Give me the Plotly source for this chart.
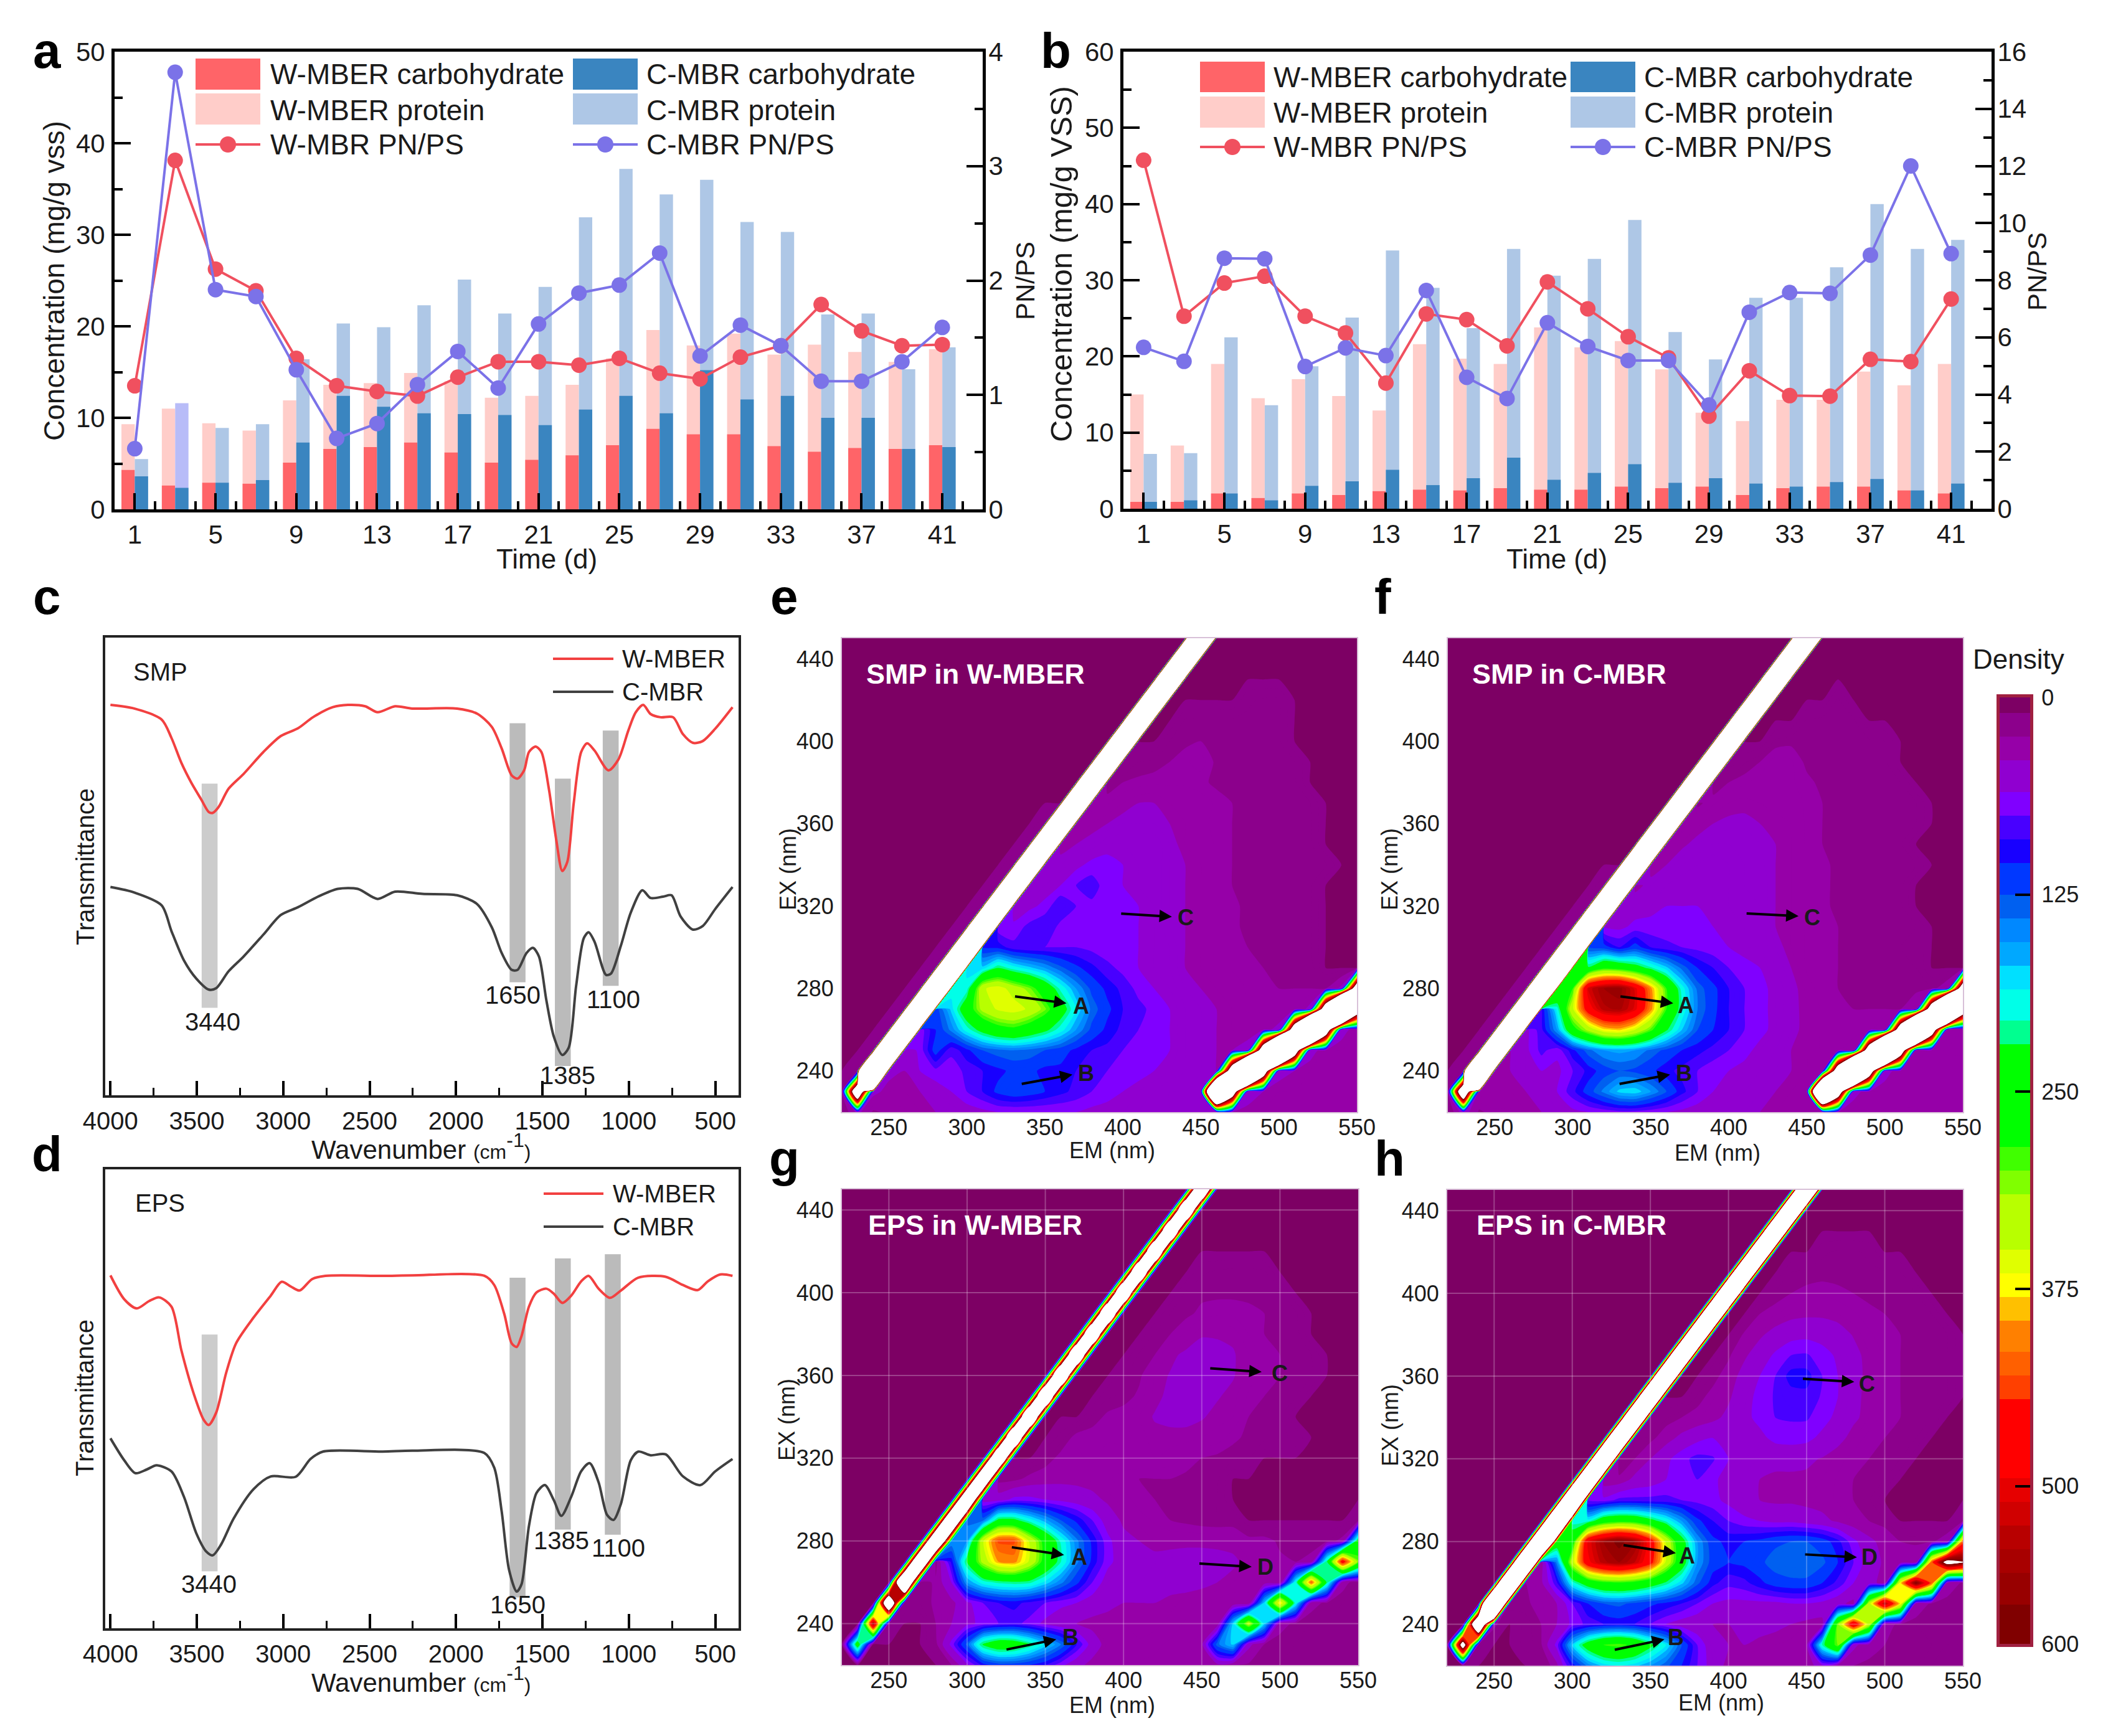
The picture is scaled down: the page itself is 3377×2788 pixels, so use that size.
import plotly.graph_objects as go

W, H = 3377, 2788
OFF = 8  # the page keeps its default body margin
FONT = "Liberation Sans"

# a: SMP concentration and PN/PS
days = [1, 3, 5, 7, 9, 11, 13, 15, 17, 19, 21, 23, 25, 27, 29, 31, 33, 35, 37, 39, 41]
a_w_carb = [4.3, 2.6, 2.9, 2.8, 5.1, 6.6, 6.8, 7.3, 6.2, 5.1, 5.4, 5.9, 7.0, 8.8, 8.2, 8.2, 6.9, 6.3, 6.7, 6.6, 7.0]
a_w_prot = [9.3, 11.0, 9.4, 8.6, 11.9, 13.6, 13.8, 14.9, 14.0, 12.2, 12.4, 13.6, 16.5, 19.6, 17.9, 19.2, 16.9, 18.0, 17.2, 16.1, 17.5]
a_c_carb = [3.6, 2.35, 2.9, 3.2, 7.3, 12.4, 11.2, 10.5, 10.4, 10.3, 9.2, 10.9, 12.4, 10.5, 15.2, 12.0, 12.4, 10.0, 10.0, 6.6, 6.8]
a_c_prot = [5.5, 11.6, 8.9, 9.3, 16.4, 20.3, 19.9, 22.3, 25.1, 21.4, 24.3, 31.9, 37.2, 34.4, 36.0, 31.4, 30.3, 21.3, 21.4, 15.3, 17.7]
a_w_ratio = [1.08, 3.05, 2.10, 1.91, 1.32, 1.08, 1.03, 0.99, 1.155, 1.29, 1.29, 1.26, 1.32, 1.19, 1.14, 1.33, 1.43, 1.79, 1.56, 1.43, 1.44]
a_c_ratio = [0.53, 3.82, 1.92, 1.86, 1.22, 0.62, 0.75, 1.09, 1.38, 1.06, 1.62, 1.89, 1.96, 2.24, 1.34, 1.61, 1.43, 1.12, 1.12, 1.29, 1.59]

# b: EPS concentration and PN/PS
b_w_carb = [0.9, 0.9, 2.0, 1.4, 2.0, 1.8, 2.3, 2.5, 2.4, 2.7, 2.5, 2.5, 2.9, 2.7, 2.9, 1.8, 2.7, 2.9, 2.9, 2.4, 2.0]
b_w_prot = [15.0, 8.3, 19.0, 14.5, 17.0, 14.8, 12.9, 21.6, 19.7, 19.0, 23.8, 21.2, 22.0, 18.3, 12.6, 11.5, 14.3, 14.3, 18.0, 16.2, 19.0]
b_c_carb = [0.9, 1.1, 2.0, 1.1, 3.0, 3.6, 5.1, 3.1, 4.0, 6.7, 3.8, 4.7, 5.85, 3.4, 4.0, 3.3, 2.9, 3.5, 3.9, 2.4, 3.3]
b_c_prot = [7.2, 7.3, 22.5, 13.6, 18.7, 25.1, 33.9, 29.0, 23.7, 34.1, 30.6, 32.8, 37.9, 23.2, 19.6, 27.7, 27.7, 31.7, 40.0, 34.1, 35.3]
b_w_ratio = [12.2, 6.74, 7.9, 8.14, 6.74, 6.15, 4.4, 6.82, 6.62, 5.7, 7.94, 7.0, 6.02, 5.28, 3.24, 4.83, 3.96, 3.94, 5.23, 5.15, 7.34]
b_c_ratio = [5.65, 5.16, 8.77, 8.75, 4.98, 5.63, 5.36, 7.64, 4.6, 3.86, 6.51, 5.68, 5.19, 5.19, 3.63, 6.88, 7.57, 7.54, 8.88, 12.0, 8.93]

# c: FTIR of SMP
c_wn_w = [4000, 3862, 3704, 3647, 3589, 3532, 3474, 3431, 3408, 3374, 3316, 3230, 3115, 3014, 2914, 2828, 2713, 2626, 2526, 2454, 2353, 2253, 1994, 1879, 1793, 1736, 1678, 1644, 1606, 1578, 1540, 1506, 1463, 1420, 1385, 1356, 1319, 1276, 1241, 1198, 1118, 1060, 1003, 960, 917, 874, 816, 744, 687, 629, 572, 500, 400]
c_t_w = [85.3, 84.5, 82.1, 78.1, 72.6, 68.3, 64.6, 61.9, 61.7, 63, 67, 70.2, 75, 78.5, 80.2, 82.6, 84.8, 85.3, 85, 83.7, 85, 84.5, 84.5, 83.4, 80.5, 75.8, 69.9, 69.2, 71, 75, 76.2, 75, 67, 55.8, 49, 51, 63.8, 75, 76.9, 75.3, 71, 73.4, 79.7, 83.7, 85.3, 83.3, 82.6, 82.6, 78.9, 77, 77.4, 80.1, 84.8]
c_wn_c = [4000, 3862, 3704, 3647, 3575, 3503, 3431, 3388, 3316, 3230, 3115, 3014, 2914, 2799, 2684, 2569, 2454, 2353, 2195, 1994, 1879, 1793, 1736, 1678, 1644, 1592, 1555, 1520, 1477, 1434, 1385, 1348, 1305, 1261, 1233, 1198, 1132, 1103, 1046, 989, 922, 874, 802, 753, 701, 629, 572, 500, 400]
c_t_c = [45.5, 44.3, 41.5, 35.9, 29.5, 25.5, 23.1, 23.4, 27.1, 30.3, 35.1, 39.4, 41.1, 43.4, 45.1, 45.1, 42.9, 44.5, 44, 43.7, 41.8, 36.7, 31.1, 27.4, 27.4, 31.1, 32.2, 30.3, 20.7, 12.8, 8.8, 10.4, 23.9, 34.3, 35.6, 33.5, 26.3, 26.6, 32.7, 39.9, 44.8, 43.1, 43.4, 43.7, 39.1, 36.2, 37, 40.7, 45.5]
c_band_wn = [3426, 1644, 1382, 1105]
c_band_top = [68.1, 81.3, 69.2, 79.7]
c_band_low = [19.1, 24.7, 6.4, 23.9]

# d: FTIR of EPS
d_wn_w = [4000, 3920, 3848, 3776, 3718, 3647, 3589, 3517, 3460, 3431, 3388, 3330, 3273, 3172, 3072, 3009, 2957, 2905, 2833, 2756, 2425, 2253, 1836, 1779, 1721, 1678, 1649, 1621, 1578, 1534, 1477, 1434, 1385, 1333, 1276, 1233, 1175, 1109, 1046, 945, 787, 687, 601, 543, 471, 400]
d_t_w = [76.9, 71.7, 69.7, 71.3, 72.1, 70.1, 60.5, 51, 45.4, 44.3, 47, 55.7, 62.1, 67.7, 72.5, 75.5, 74.5, 73.6, 76.1, 76.8, 76.8, 76.9, 76.8, 74.8, 68.5, 62.1, 61.3, 63.7, 70.1, 73.2, 74, 72.9, 70.9, 72.5, 75.6, 76.8, 74, 72, 73.6, 76.4, 76.6, 74.8, 73.7, 75.6, 77.1, 76.8]
d_wn_c = [4000, 3920, 3856, 3790, 3733, 3647, 3575, 3503, 3445, 3408, 3359, 3287, 3172, 3072, 2928, 2842, 2770, 2425, 2253, 1836, 1779, 1736, 1693, 1649, 1621, 1578, 1534, 1486, 1434, 1391, 1333, 1276, 1227, 1175, 1126, 1089, 1046, 989, 945, 874, 787, 687, 586, 500, 400]
d_t_c = [41.4, 36.6, 33.8, 34.6, 35.5, 34.2, 28.7, 20.7, 16.7, 15.9, 18.3, 23.9, 30.3, 33.1, 33, 36.9, 38.5, 38.5, 38.7, 38.2, 35, 25.5, 12.7, 8, 9.6, 22.3, 29.5, 31.2, 27.9, 24.5, 28.7, 34.2, 36, 31.8, 24.7, 23.6, 27.1, 36.6, 38.5, 37.7, 37.9, 33.1, 31.2, 34.2, 36.9]
d_band_wn = [3426, 1644, 1382, 1093]
d_band_top = [64, 76.4, 80.6, 81.5]
d_band_low = [12.4, 6.7, 21.5, 20.4]

# e-h: fluorescence maps, one row per EX value, one column per EM value
em = list(range(220, 551, 10))
ex = list(range(220, 451, 10))

smp_w = [
    [5, 40, 18, 22, 24, 30, 35, 40, 45, 50, 55, 55, 55, 55, 55, 55, 50, 50, 50, 45, 45, 40, 40, 35, 35, 35, 30, 30, 30, 30, 30, 30, 30, 30],
    [5, 900, 40, 30, 30, 35, 45, 55, 70, 85, 105, 115, 110, 100, 90, 80, 70, 60, 55, 50, 45, 40, 40, 40, 1500, 800, 45, 35, 30, 30, 30, 30, 30, 30],
    [5, 18, 6000, 40, 35, 55, 65, 60, 75, 85, 95, 105, 105, 95, 95, 85, 75, 70, 65, 60, 55, 50, 45, 40, 35, 800, 2000, 800, 40, 35, 30, 30, 30, 30],
    [5, 5, 18, 6000, 40, 60, 110, 75, 95, 120, 130, 135, 130, 120, 110, 95, 85, 80, 70, 65, 60, 55, 45, 40, 35, 35, 40, 800, 2000, 800, 40, 30, 30, 30],
    [5, 5, 5, 18, 6000, 60, 100, 140, 190, 230, 260, 270, 250, 225, 190, 150, 115, 95, 80, 70, 65, 55, 45, 40, 35, 30, 30, 30, 40, 800, 2000, 800, 40, 30],
    [5, 5, 5, 5, 18, 6000, 110, 170, 250, 320, 350, 360, 340, 300, 240, 180, 130, 105, 85, 75, 65, 55, 45, 40, 35, 30, 24, 24, 24, 24, 40, 800, 2000, 800],
    [5, 5, 5, 5, 5, 18, 6000, 190, 190, 340, 360, 330, 300, 250, 195, 150, 115, 95, 80, 65, 55, 50, 40, 35, 30, 30, 24, 24, 20, 20, 20, 20, 40, 800],
    [5] * 6 + [18, 6000, 170, 170, 215, 190, 170, 150, 125, 105, 90, 75, 65, 55, 50, 45, 35, 30, 24, 24, 24, 20, 20, 20, 18, 5, 5, 5],
    [5] * 7 + [18, 6000, 100, 95, 75, 70, 70, 70, 70, 65, 60, 60, 55, 50, 45, 35, 30, 24, 22, 20, 18, 18, 18, 16, 5, 5, 5],
    [5] * 8 + [18, 6000, 60, 60, 75, 85, 65, 65, 65, 60, 60, 55, 50, 40, 35, 30, 24, 22, 18, 18, 18, 16, 16, 5, 5, 5],
    [5] * 9 + [18, 6000, 40, 50, 60, 85, 70, 65, 60, 60, 55, 50, 40, 35, 30, 24, 22, 18, 18, 18, 16, 16, 5, 5, 5],
    [5] * 10 + [18, 6000, 35, 45, 55, 70, 80, 60, 55, 50, 50, 40, 35, 30, 24, 20, 18, 18, 18, 16, 16, 5, 5, 5],
    [5] * 11 + [18, 6000, 35, 40, 50, 60, 60, 55, 50, 50, 40, 35, 30, 24, 20, 18, 18, 18, 16, 16, 16, 5, 5],
    [5] * 12 + [15, 6000, 30, 35, 40, 50, 50, 50, 50, 40, 30, 30, 24, 20, 18, 18, 18, 16, 16, 5, 5, 5],
    [5] * 13 + [15, 6000, 24, 30, 35, 40, 40, 40, 35, 30, 28, 22, 20, 18, 18, 18, 16, 16, 5, 5, 5],
    [5] * 14 + [5, 6000, 20, 24, 30, 35, 35, 30, 30, 28, 24, 20, 16, 16, 16, 16, 15, 5, 5, 5],
    [5] * 15 + [5, 6000, 15, 20, 22, 24, 24, 24, 22, 18, 18, 18, 18, 16, 16, 5, 5, 5, 5],
    [5] * 16 + [5, 6000, 5, 15, 16, 20, 24, 28, 18, 18, 18, 18, 16, 15, 5, 5, 5, 5],
    [5] * 17 + [5, 6000, 5, 5, 15, 18, 20, 18, 18, 17, 17, 16, 5, 5, 5, 5, 5],
    [5] * 18 + [5, 6000, 5, 5, 16, 16, 16, 16, 16, 16, 16, 5, 5, 5, 5, 5],
    [5] * 19 + [5, 6000, 5, 5, 5, 5, 5, 14, 16, 16, 5, 5, 5, 5, 5],
    [5] * 20 + [5, 6000] + [5] * 12,
    [5] * 21 + [5, 6000] + [5] * 11,
    [5] * 22 + [5, 6000] + [5] * 10,
]

smp_c = [
    [5, 45, 18, 24, 24, 30, 35, 45, 50, 55, 60, 65, 65, 60, 55, 50, 45, 45, 40, 40, 35, 30, 30, 30, 30, 30, 28, 28, 24, 24, 24, 30, 30, 24],
    [5, 900, 35, 30, 30, 35, 40, 55, 80, 110, 140, 170, 175, 150, 120, 90, 70, 55, 50, 45, 40, 35, 30, 30, 1500, 800, 40, 30, 30, 30, 28, 28, 30, 28],
    [5, 18, 6000, 35, 35, 50, 55, 50, 70, 90, 110, 120, 115, 105, 90, 80, 70, 60, 55, 50, 45, 40, 35, 30, 30, 800, 2000, 800, 40, 30, 28, 28, 28, 28],
    [5, 5, 18, 6000, 35, 50, 75, 60, 95, 130, 150, 155, 150, 130, 115, 100, 90, 80, 70, 60, 50, 45, 35, 30, 24, 24, 30, 800, 2000, 800, 35, 28, 24, 24],
    [5, 5, 5, 18, 6000, 50, 80, 150, 260, 320, 370, 380, 345, 290, 220, 165, 120, 100, 85, 70, 60, 50, 40, 30, 24, 24, 22, 22, 35, 800, 2000, 800, 35, 24],
    [5, 5, 5, 5, 18, 6000, 85, 190, 340, 470, 530, 540, 500, 400, 280, 195, 135, 105, 85, 70, 60, 50, 40, 30, 24, 22, 20, 20, 20, 20, 35, 800, 2000, 800],
    [5, 5, 5, 5, 5, 18, 6000, 280, 280, 510, 550, 560, 500, 400, 280, 190, 130, 105, 85, 70, 60, 50, 40, 28, 22, 20, 20, 18, 18, 16, 16, 16, 30, 800],
    [5] * 6 + [18, 6000, 220, 220, 270, 260, 235, 205, 170, 130, 100, 85, 70, 60, 55, 45, 35, 24, 22, 20, 18, 18, 16, 16, 15, 5, 5, 5],
    [5] * 7 + [18, 6000, 115, 110, 85, 110, 85, 75, 70, 65, 60, 55, 50, 50, 40, 30, 24, 22, 20, 18, 18, 16, 15, 15, 5, 5, 5],
    [5] * 8 + [18, 6000, 50, 50, 60, 60, 60, 60, 60, 55, 55, 50, 50, 35, 30, 24, 22, 20, 18, 16, 16, 16, 15, 5, 5, 5],
    [5] * 9 + [15, 6000, 35, 45, 50, 55, 55, 55, 55, 50, 50, 45, 35, 30, 24, 22, 18, 18, 18, 16, 16, 5, 5, 5, 5],
    [5] * 10 + [15, 6000, 30, 40, 50, 55, 55, 55, 50, 45, 45, 35, 30, 24, 22, 18, 18, 16, 16, 16, 5, 5, 5, 5],
    [5] * 11 + [5, 6000, 28, 35, 45, 50, 55, 50, 45, 42, 35, 30, 24, 22, 18, 18, 16, 16, 16, 15, 5, 5, 5],
    [5] * 12 + [5, 6000, 24, 32, 40, 45, 45, 45, 40, 35, 30, 24, 20, 18, 18, 18, 16, 16, 5, 5, 5, 5],
    [5] * 13 + [5, 6000, 20, 28, 35, 38, 38, 35, 32, 30, 24, 20, 18, 18, 18, 16, 16, 15, 5, 5, 5],
    [5] * 14 + [5, 6000, 18, 24, 30, 32, 30, 28, 28, 24, 20, 18, 18, 18, 16, 16, 15, 5, 5, 5],
    [5] * 15 + [5, 6000, 14, 20, 24, 28, 28, 26, 22, 18, 18, 18, 18, 16, 15, 5, 5, 5, 5],
    [5] * 16 + [5, 6000, 5, 14, 20, 28, 26, 18, 18, 18, 18, 16, 16, 5, 5, 5, 5, 5],
    [5] * 17 + [5, 6000, 5, 5, 16, 18, 18, 18, 18, 18, 16, 15, 5, 5, 5, 5, 5],
    [5] * 18 + [5, 6000, 5, 5, 5, 16, 17, 17, 16, 5, 5, 5, 5, 5, 5, 5],
    [5] * 19 + [5, 6000, 5, 5, 5, 5, 16, 5, 5, 5, 5, 5, 5, 5, 5],
    [5] * 20 + [5, 6000] + [5] * 12,
    [5] * 21 + [5, 6000] + [5] * 11,
    [5] * 22 + [5, 6000] + [5] * 10,
]

eps_w = [
    [5, 5, 5, 5, 5, 5, 5, 20, 50, 90, 110, 110, 100, 85, 60, 40, 30, 24, 24, 24, 24, 24, 22, 24, 30, 20, 18, 16, 15, 15, 15, 15, 15, 15],
    [5, 250, 5, 5, 5, 5, 16, 60, 125, 220, 250, 245, 215, 175, 135, 85, 45, 28, 28, 28, 26, 24, 24, 30, 130, 170, 40, 20, 16, 15, 15, 15, 15, 15],
    [5, 5, 550, 20, 5, 5, 20, 35, 50, 60, 70, 75, 65, 50, 40, 35, 30, 28, 30, 35, 32, 28, 24, 20, 24, 170, 330, 170, 24, 18, 15, 15, 15, 15],
    [5, 5, 5, 900, 15, 15, 22, 30, 50, 70, 85, 90, 80, 70, 60, 55, 45, 40, 35, 35, 35, 32, 28, 24, 22, 20, 22, 170, 380, 190, 24, 18, 15, 15],
    [5, 5, 5, 5, 1200, 15, 22, 55, 150, 190, 205, 210, 205, 175, 140, 105, 70, 45, 40, 40, 40, 40, 42, 40, 35, 30, 28, 24, 24, 190, 420, 210, 24, 15],
    [5, 5, 5, 5, 5, 1200, 15, 90, 220, 320, 390, 400, 340, 260, 200, 140, 95, 60, 45, 42, 40, 42, 45, 45, 42, 38, 30, 24, 22, 20, 24, 210, 470, 300],
    [5, 5, 5, 5, 5, 5, 1200, 150, 150, 340, 430, 430, 340, 260, 195, 140, 95, 60, 40, 35, 30, 30, 30, 30, 30, 30, 24, 24, 18, 15, 15, 15, 24, 230],
    [5] * 6 + [5, 1200, 130, 130, 225, 225, 190, 155, 120, 95, 70, 45, 32, 28, 24, 20, 18, 16, 15, 15, 5, 5, 5, 5, 5, 5, 5, 15],
    [5] * 7 + [5, 1200, 45, 45, 60, 60, 55, 50, 45, 40, 32, 28, 22, 20, 20, 18, 16, 15, 5, 5, 5, 5, 5, 5, 5, 5, 5],
    [5] * 8 + [5, 1200, 15, 16, 24, 28, 30, 30, 28, 26, 22, 20, 20, 20, 18, 16, 16, 5, 5, 5, 5, 5, 5, 5, 5, 5],
    [5] * 9 + [5, 1200, 5, 5, 14, 24, 26, 24, 28, 30, 30, 30, 28, 24, 20, 18, 16, 15, 5, 5, 5, 5, 5, 5, 5],
    [5] * 10 + [5, 1200, 5, 5, 12, 24, 24, 24, 22, 28, 32, 32, 32, 30, 28, 22, 18, 17, 16, 14, 5, 5, 5, 5],
    [5] * 11 + [5, 1200, 5, 5, 5, 16, 22, 25, 30, 36, 38, 38, 36, 32, 30, 20, 18, 16, 5, 5, 5, 5, 5],
    [5] * 12 + [5, 1200, 5, 5, 5, 14, 16, 22, 32, 38, 40, 38, 36, 32, 24, 20, 18, 16, 5, 5, 5, 5],
    [5] * 13 + [5, 1200, 5, 5, 5, 14, 18, 30, 36, 40, 40, 38, 36, 28, 22, 20, 18, 16, 5, 5, 5],
    [5] * 14 + [5, 1200, 5, 5, 5, 16, 20, 32, 38, 40, 38, 36, 30, 22, 20, 18, 15, 5, 5, 5],
    [5] * 15 + [5, 1200, 5, 5, 5, 16, 20, 26, 34, 34, 33, 25, 20, 18, 18, 5, 5, 5, 5],
    [5] * 16 + [5, 1200, 5, 5, 5, 15, 18, 22, 24, 24, 22, 20, 18, 16, 5, 5, 5, 5],
    [5] * 17 + [5, 1200, 5, 5, 5, 16, 18, 18, 18, 18, 18, 17, 5, 5, 5, 5, 5],
    [5] * 18 + [5, 1200, 5, 5, 5, 14, 16, 17, 17, 16, 5, 5, 5, 5, 5, 5],
    [5] * 19 + [5, 1200] + [5] * 13,
    [5] * 20 + [5, 1200] + [5] * 12,
    [5] * 21 + [5, 1200] + [5] * 11,
    [5] * 22 + [5, 1200] + [5] * 10,
]

eps_c = [
    [5, 5, 5, 5, 5, 5, 5, 30, 90, 140, 170, 180, 170, 150, 125, 100, 70, 45, 30, 24, 24, 24, 22, 22, 50, 24, 20, 18, 16, 15, 15, 15, 16, 16],
    [5, 700, 12, 5, 5, 12, 18, 60, 170, 240, 280, 290, 270, 225, 180, 120, 70, 40, 35, 35, 32, 30, 28, 30, 200, 300, 40, 24, 20, 18, 16, 15, 15, 15],
    [5, 5, 1000, 24, 5, 12, 20, 35, 60, 75, 85, 90, 85, 70, 55, 45, 40, 35, 35, 38, 40, 38, 35, 30, 28, 300, 500, 330, 24, 18, 15, 15, 15, 15],
    [5, 5, 5, 2000, 20, 18, 24, 35, 70, 100, 120, 125, 115, 105, 95, 85, 70, 55, 50, 50, 50, 50, 55, 55, 50, 40, 30, 330, 530, 370, 30, 18, 15, 15],
    [5, 5, 5, 5, 2000, 20, 30, 80, 190, 240, 270, 275, 265, 240, 210, 170, 125, 90, 75, 80, 95, 110, 115, 115, 100, 80, 55, 40, 30, 370, 580, 420, 30, 18],
    [5, 5, 5, 5, 5, 2000, 24, 140, 330, 480, 530, 550, 520, 460, 340, 240, 150, 110, 100, 105, 115, 130, 135, 135, 125, 100, 70, 45, 32, 24, 30, 420, 650, 600],
    [5, 5, 5, 5, 5, 5, 2000, 250, 250, 490, 550, 580, 550, 470, 340, 235, 150, 105, 95, 100, 105, 115, 120, 120, 110, 90, 60, 40, 28, 20, 18, 18, 30, 420],
    [5] * 6 + [5, 2000, 190, 190, 250, 265, 260, 230, 195, 150, 105, 85, 70, 60, 55, 50, 50, 45, 40, 32, 24, 20, 16, 5, 5, 5, 5, 16],
    [5] * 7 + [5, 2000, 60, 60, 75, 75, 75, 75, 70, 65, 60, 50, 40, 35, 32, 32, 30, 28, 24, 20, 16, 5, 5, 5, 5, 5, 5],
    [5] * 8 + [5, 2000, 24, 24, 40, 45, 55, 65, 70, 60, 45, 38, 35, 32, 32, 32, 30, 24, 20, 18, 15, 5, 5, 5, 5, 5],
    [5] * 9 + [5, 2000, 5, 20, 35, 50, 65, 75, 72, 55, 45, 40, 40, 40, 38, 34, 28, 22, 20, 18, 15, 5, 5, 5, 5],
    [5] * 10 + [5, 2000, 5, 16, 28, 40, 50, 55, 50, 50, 50, 60, 62, 60, 50, 40, 30, 22, 20, 18, 15, 5, 5, 5],
    [5] * 11 + [5, 2000, 5, 14, 20, 24, 30, 40, 50, 60, 70, 72, 72, 62, 50, 38, 30, 22, 20, 18, 15, 5, 5],
    [5] * 12 + [5, 2000, 5, 5, 16, 24, 32, 48, 60, 72, 78, 80, 68, 55, 40, 30, 24, 20, 18, 16, 15, 5],
    [5] * 13 + [5, 2000, 5, 5, 16, 26, 42, 55, 70, 92, 92, 70, 55, 42, 30, 24, 20, 18, 16, 15, 5],
    [5] * 14 + [5, 2000, 5, 5, 18, 32, 45, 58, 70, 72, 62, 52, 40, 30, 24, 20, 18, 16, 15, 5],
    [5] * 15 + [5, 2000, 5, 5, 22, 32, 42, 48, 50, 48, 42, 34, 26, 22, 20, 18, 16, 15, 5],
    [5] * 16 + [5, 2000, 5, 5, 20, 24, 30, 32, 32, 30, 26, 22, 20, 18, 16, 15, 5, 5],
    [5] * 17 + [5, 2000, 5, 5, 16, 20, 22, 24, 22, 20, 18, 18, 16, 15, 5, 5, 5],
    [5] * 18 + [5, 2000, 5, 5, 15, 17, 17, 17, 17, 16, 16, 15, 5, 5, 5, 5],
    [5] * 19 + [5, 2000, 5, 5, 5, 14, 16, 16, 14, 5, 5, 5, 5, 5, 5],
    [5] * 20 + [5, 2000] + [5] * 12,
    [5] * 21 + [5, 2000] + [5] * 11,
    [5] * 22 + [5, 2000] + [5] * 10,
]

# density scale
band_edges = [0, 10, 25, 40, 60, 75, 90, 105, 125, 140, 155, 170, 185, 205, 220, 285, 300, 315, 350, 365, 380, 395, 415, 430, 445, 495, 510, 525, 540, 555, 575, 600]
band_colors = ['#7d0064', '#8c008c', '#9600a8', '#9000d0', '#8000ff', '#4800ff', '#1800ff', '#0038ff', '#0060f0', '#0088ff', '#00a8ff', '#00e0ff', '#00ffe8', '#00ff90', '#00ff00', '#40ff00', '#80ff00', '#b8ff00', '#e0ff00', '#ffff00', '#ffc000', '#ff8000', '#ff6000', '#ff4000', '#ff0000', '#e60000', '#d00000', '#b80000', '#a80000', '#980000', '#800000']
density_ticks = [0, 125, 250, 375, 500, 600]
em_ticks = [250, 300, 350, 400, 450, 500, 550]
ex_ticks = [240, 280, 320, 360, 400, 440]

for grid in (smp_w, smp_c, eps_w, eps_c):
    assert len(grid) == len(ex) and all(len(r) == len(em) for r in grid)

ZTOP = 610
colorscale = []
for i, c in enumerate(band_colors):
    colorscale.append([band_edges[i] / ZTOP, c])
    colorscale.append([band_edges[i + 1] / ZTOP, c])
colorscale.append([600 / ZTOP, 'white'])
colorscale.append([1, 'white'])


def px(x):
    return (x - OFF) / W


def py(y):
    return 1 - (y - OFF) / H


def xdom(l, r):
    return [px(l), px(r)]


def ydom(t, b):
    return [py(b), py(t)]


fig = go.Figure()
annotations = []
shapes = []


def txt(s, x, y, size=40, rotate=0, xanchor='center', color='#1a1a1a'):
    annotations.append(dict(text=s, x=px(x), y=py(y), xref='paper', yref='paper', showarrow=False,
                            font=dict(size=size, color=color, family=FONT), textangle=rotate,
                            xanchor=xanchor, yanchor='middle'))


def dtxt(s, x, y, n, size=38):
    annotations.append(dict(text=s, x=x, y=y, xref='x%d' % n, yref='y%d' % n, showarrow=False,
                            font=dict(size=size, color='#1a1a1a', family=FONT)))


def box(x0, x1, y0, y1, color):
    shapes.append(dict(type='rect', xref='paper', yref='paper', x0=px(x0), x1=px(x1), y0=py(y0), y1=py(y1),
                       fillcolor=color, line=dict(width=0)))


def seg(x0, x1, y, color, width=4):
    shapes.append(dict(type='line', xref='paper', yref='paper', x0=px(x0), x1=px(x1), y0=py(y), y1=py(y),
                       line=dict(color=color, width=width)))


def dot(x, y, color, r=13):
    shapes.append(dict(type='circle', xref='paper', yref='paper', x0=px(x - r), x1=px(x + r), y0=py(y - r), y1=py(y + r),
                       fillcolor=color, line=dict(width=0)))


W_CARB, W_PROT, C_CARB, C_PROT = '#ff6468', '#ffcdc9', '#3a85c0', '#aec7e6'
W_LINE, C_LINE = '#f0505f', '#7b72e8'
BAR_W = 0.66


def bar_panel(n, right, w_carb, w_prot, c_carb, c_prot, w_ratio, c_ratio, c_prot_colors):
    ax = dict(xaxis='x%d' % n, yaxis='y%d' % n)
    fig.add_trace(go.Bar(x=days, y=w_prot, width=BAR_W, offset=-BAR_W, marker=dict(color=W_PROT, line_width=0), **ax))
    fig.add_trace(go.Bar(x=days, y=w_carb, width=BAR_W, offset=-BAR_W, marker=dict(color=W_CARB, line_width=0), **ax))
    fig.add_trace(go.Bar(x=days, y=c_prot, width=BAR_W, offset=0, marker=dict(color=c_prot_colors, line_width=0), **ax))
    fig.add_trace(go.Bar(x=days, y=c_carb, width=BAR_W, offset=0, marker=dict(color=C_CARB, line_width=0), **ax))
    for y, c in ((w_ratio, W_LINE), (c_ratio, C_LINE)):
        fig.add_trace(go.Scatter(x=days, y=y, mode='lines+markers', line=dict(color=c, width=4),
                                 marker=dict(color=c, size=25, line_width=0),
                                 xaxis='x%d' % n, yaxis='y%d' % right))


bar_panel(1, 9, a_w_carb, a_w_prot, a_c_carb, a_c_prot, a_w_ratio, a_c_ratio,
          [C_PROT, '#b8bcf8'] + [C_PROT] * 19)
bar_panel(2, 10, b_w_carb, b_w_prot, b_c_carb, b_c_prot, b_w_ratio, b_c_ratio, C_PROT)


def ftir_panel(n, wn_w, t_w, wn_c, t_c, band_wn, band_top, band_low, band_colors_):
    ax = dict(xaxis='x%d' % n, yaxis='y%d' % n)
    fig.add_trace(go.Bar(x=band_wn, y=[t - b for t, b in zip(band_top, band_low)], base=band_low, width=92,
                         marker=dict(color=band_colors_, line_width=0), **ax))
    fig.add_trace(go.Scatter(x=wn_w, y=t_w, mode='lines', line=dict(color='#f24040', width=4, shape='spline', smoothing=0.8), **ax))
    fig.add_trace(go.Scatter(x=wn_c, y=t_c, mode='lines', line=dict(color='#404040', width=4, shape='spline', smoothing=0.8), **ax))


grey = ['#cccccc', '#bbbbbb', '#bbbbbb', '#bbbbbb']
ftir_panel(3, c_wn_w, c_t_w, c_wn_c, c_t_c, c_band_wn, c_band_top, c_band_low, grey)
ftir_panel(4, d_wn_w, d_t_w, d_wn_c, d_t_c, d_band_wn, d_band_top, d_band_low, grey)

for n, grid in ((5, smp_w), (6, smp_c), (7, eps_w), (8, eps_c)):
    fig.add_trace(go.Contour(x=em, y=ex, z=grid, xaxis='x%d' % n, yaxis='y%d' % n, autocontour=False,
                             contours=dict(start=0, end=605, size=5, coloring='fill', showlines=False),
                             line=dict(width=0, smoothing=0.6), colorscale=colorscale, showscale=False))

# density bar as a small heatmap so 0 can sit at the top
bar_z = [[(band_edges[i] + band_edges[i + 1]) / 2] for i in range(len(band_colors))]
fig.add_trace(go.Heatmap(x=[0, 1], y=band_edges, z=bar_z, zmin=0, zmax=ZTOP, colorscale=colorscale,
                         showscale=False, xaxis='x9', yaxis='y11'))

base_font = dict(family=FONT, size=42, color='#1a1a1a')
layout_axes = {}


def bar_axes(n, right, box_px, ymax, ystep, yminor, rmax, rstep, rminor):
    l, r, t, b = box_px
    sfx = '' if n == 1 else str(n)
    tick = dict(ticks='inside', ticklen=26, tickwidth=4, tickcolor='black', tickfont=base_font,
                showgrid=False, zeroline=False, showline=True, linecolor='black', linewidth=5)
    layout_axes['xaxis' + sfx] = dict(domain=xdom(l, r), anchor='y' + sfx, range=[0, 43], tick0=1, dtick=4, mirror=True,
                                      minor=dict(ticks='inside', dtick=2, ticklen=13, tickwidth=4, tickcolor='black'),
                                      ticklabelstandoff=0, **tick)
    layout_axes['yaxis' + sfx] = dict(domain=ydom(t, b), anchor='x' + sfx, range=[0, ymax], dtick=ystep,
                                      minor=dict(ticks='inside', dtick=yminor, ticklen=13, tickwidth=4, tickcolor='black'),
                                      ticklabelstandoff=2, **tick)
    layout_axes['yaxis%d' % right] = dict(domain=ydom(t, b), anchor='x' + sfx, overlaying='y' + sfx, side='right',
                                          range=[0, rmax], dtick=rstep,
                                          minor=dict(ticks='inside', dtick=rminor, ticklen=13, tickwidth=4, tickcolor='black'),
                                          ticklabelstandoff=-4, **tick)


bar_axes(1, 9, (184, 1578, 83, 818), 50, 10, 5, 4, 1, 0.5)
bar_axes(2, 10, (1804, 3198, 83, 817), 60, 10, 5, 16, 2, 1)

for n, (t, b) in ((3, (1024, 1759)), (4, (1878, 2615))):
    layout_axes['xaxis%d' % n] = dict(domain=xdom(169, 1186), anchor='y%d' % n, range=[4030, 365],
                                      tick0=500, dtick=500, ticks='inside', ticklen=23, tickwidth=4, tickcolor='black',
                                      minor=dict(ticks='inside', dtick=250, ticklen=12, tickwidth=3, tickcolor='black'),
                                      tickfont=dict(family=FONT, size=40, color='#1a1a1a'), ticklabelstandoff=3,
                                      showgrid=False, zeroline=False, showline=True, linecolor='#222222', linewidth=4, mirror=True)
    layout_axes['yaxis%d' % n] = dict(domain=ydom(t, b), anchor='x%d' % n, range=[0, 100], showticklabels=False, ticks='',
                                      showgrid=False, zeroline=False, showline=True, linecolor='#222222', linewidth=4, mirror=True)

for n, (l, r, t, b) in ((5, (1352, 2179, 1025, 1786)), (6, (2325, 3152, 1025, 1786)),
                        (7, (1352, 2181, 1910, 2674)), (8, (2324, 3152, 1911, 2675))):
    layout_axes['xaxis%d' % n] = dict(domain=xdom(l, r), anchor='y%d' % n, range=[220, 550], tickvals=em_ticks, ticks='',
                                      tickfont=dict(family=FONT, size=36, color='#1a1a1a'), ticklabelstandoff=-8,
                                      showgrid=False, zeroline=False, showline=True, linecolor='#d8c0d8', linewidth=2, mirror=True)
    layout_axes['yaxis%d' % n] = dict(domain=ydom(t, b), anchor='x%d' % n, range=[220, 450], tickvals=ex_ticks, ticks='',
                                      tickfont=dict(family=FONT, size=36, color='#1a1a1a'), ticklabelstandoff=4,
                                      showgrid=False, zeroline=False, showline=True, linecolor='#d8c0d8', linewidth=2, mirror=True)

layout_axes['xaxis9'] = dict(domain=xdom(3211, 3260), anchor='y11', range=[0, 1], showticklabels=False, ticks='',
                             showgrid=False, zeroline=False, showline=True, linecolor='#a02040', linewidth=5, mirror=True)
layout_axes['yaxis11'] = dict(domain=ydom(1120, 2640), anchor='x9', side='right', range=[600, 0], tickvals=density_ticks,
                              ticks='inside', ticklen=24, tickwidth=4, tickcolor='black', ticklabelstandoff=6,
                              tickfont=dict(family=FONT, size=36, color='#1a1a1a'),
                              showgrid=False, zeroline=False, showline=True, linecolor='#a02040', linewidth=5, mirror=True)

# faint grid lines over the EPS maps
for n in (7, 8):
    for v in em_ticks[:-1]:
        shapes.append(dict(type='line', xref='x%d' % n, yref='y%d' % n, x0=v, x1=v, y0=220, y1=450,
                           line=dict(color='rgba(255,255,255,0.25)', width=2)))
    for v in ex_ticks:
        shapes.append(dict(type='line', xref='x%d' % n, yref='y%d' % n, x0=220, x1=550, y0=v, y1=v,
                           line=dict(color='rgba(255,255,255,0.25)', width=2)))

# legends of a and b
for x1, x2, x3, x4, ys in ((314, 432, 920, 1036, (94, 144, 150, 200, 232, 119, 177)),
                           (1927, 2043, 2522, 2638, (99, 148, 155, 205, 236, 124, 181))):
    sw = 104
    box(x1, x1 + sw, ys[0], ys[1], W_CARB)
    box(x1, x1 + sw, ys[2], ys[3], W_PROT)
    box(x3, x3 + sw, ys[0], ys[1], C_CARB)
    box(x3, x3 + sw, ys[2], ys[3], C_PROT)
    seg(x1, x1 + sw, ys[4], W_LINE)
    dot(x1 + sw / 2, ys[4], W_LINE)
    seg(x3, x3 + sw, ys[4], C_LINE)
    dot(x3 + sw / 2, ys[4], C_LINE)
    txt('W-MBER carbohydrate', x2, ys[5], 46, xanchor='left')
    txt('W-MBER protein', x2, ys[6], 46, xanchor='left')
    txt('W-MBR PN/PS', x2, ys[4], 46, xanchor='left')
    txt('C-MBR carbohydrate', x4, ys[5], 46, xanchor='left')
    txt('C-MBR protein', x4, ys[6], 46, xanchor='left')
    txt('C-MBR PN/PS', x4, ys[4], 46, xanchor='left')

# legends and labels of c and d
seg(888, 985, 1058, '#f24040')
seg(888, 985, 1111, '#404040')
txt('W-MBER', 997, 1058, 40, xanchor='left')
txt('C-MBR', 997, 1111, 40, xanchor='left')
seg(873, 969, 1917, '#f24040')
seg(873, 969, 1970, '#404040')
txt('W-MBER', 982, 1917, 40, xanchor='left')
txt('C-MBR', 982, 1970, 40, xanchor='left')
txt('SMP', 257, 1079, 40)
txt('EPS', 257, 1932, 40)
for s, x, y in (('3440', 3408, 16), ('1650', 1672, 21.9), ('1385', 1356, 4.3), ('1100', 1089, 21)):
    dtxt(s, x, y, 3, 40)
for s, x, y in (('3440', 3431, 9.6), ('1650', 1644, 5.1), ('1385', 1391, 19.1), ('1100', 1060, 17.5)):
    dtxt(s, x, y, 4, 40)

# arrows on the maps: label, arrow start, arrow end, label position
arrows = {
    5: [('A', 330.3, 276.2, 363.9, 272.8, 373.3, 271.4), ('B', 334.6, 233.6, 367.7, 238.2, 376.6, 239),
        ('C', 398.3, 316.4, 431.4, 314.8, 440.3, 314.4)],
    6: [('A', 330, 276.2, 364.4, 272.8, 372.6, 271.7), ('B', 329.4, 233.6, 362.4, 238.2, 371.2, 239),
        ('C', 410.8, 316.4, 444.7, 315.1, 453.4, 314.4)],
    7: [('A', 328, 277, 362, 273.2, 371.5, 272.1), ('B', 324.6, 227.4, 357, 232.4, 366.2, 233.3),
        ('C', 454.8, 363.5, 488.3, 361.7, 499.7, 361), ('D', 447.9, 269.1, 481.9, 267.5, 490.8, 267.3)],
    8: [('A', 332.2, 278.3, 366.3, 274.4, 373.6, 273), ('B', 326.6, 227.6, 359, 232.7, 366.3, 233.6),
        ('C', 447, 358.7, 480.5, 357.2, 488.6, 356.3), ('D', 448.4, 273.8, 482.2, 272.4, 490.1, 272.6)],
}
for n, items in arrows.items():
    for lab, x0, y0, x1, y1, lx, ly in items:
        annotations.append(dict(x=x1, y=y1, ax=x0, ay=y0, xref='x%d' % n, yref='y%d' % n, axref='x%d' % n, ayref='y%d' % n,
                                text='', showarrow=True, arrowhead=2, arrowsize=1, arrowwidth=4, arrowcolor='black'))
        dtxt('<b>%s</b>' % lab, lx, ly, n, 36)

# axis titles and panel letters
txt('Time (d)', 878, 897, 44)
txt('Time (d)', 2500, 897, 44)
txt('Concentration (mg/g vss)', 87, 451, 46, rotate=-90)
txt('Concentration (mg/g VSS)', 1704, 424, 49, rotate=-90)
txt('PN/PS', 1646, 451, 42, rotate=-90)
txt('PN/PS', 3271, 436, 42, rotate=-90)
txt('Transmittance', 137, 1392, 40, rotate=-90)
txt('Transmittance', 136, 2245, 40, rotate=-90)
wave = 'Wavenumber <span style="font-size:32px">(cm</span><span style="font-size:46px"><sup>-1</sup></span><span style="font-size:32px">)</span>'
txt(wave, 676, 1841, 42)
txt(wave, 676, 2697, 42)
for x, y in ((1786, 1847), (2758, 1851), (1786, 2738), (2764, 2734)):
    txt('EM (nm)', x, y, 36)
for x, y in ((1266, 1396), (2232, 1396), (1263, 2280), (2232, 2289)):
    txt('EX (nm)', x, y, 36, rotate=-90)
txt('Density', 3166, 1058, 44, xanchor='left')
for s, x, y in (('<b>SMP in W-MBER</b>', 1566, 1082), ('<b>SMP in C-MBR</b>', 2520, 1082),
                ('<b>EPS in W-MBER</b>', 1566, 1967), ('<b>EPS in C-MBR</b>', 2523, 1967)):
    txt(s, x, y, 45, color='white')
for s, x, y in (('a', 75, 82), ('b', 1695, 82), ('c', 75, 959), ('d', 75, 1853),
                ('e', 1259, 959), ('f', 2220, 959), ('g', 1259, 1860), ('h', 2231, 1860)):
    txt('<b>%s</b>' % s, x, y, 80, color='black')

fig.update_layout(template='none', width=W, height=H, margin=dict(l=0, r=0, t=0, b=0), autosize=False, showlegend=False,
                  barmode='overlay', paper_bgcolor='white', plot_bgcolor='rgba(0,0,0,0)',
                  font=base_font, annotations=annotations, shapes=shapes, **layout_axes)

fig.write_html("out.html")
